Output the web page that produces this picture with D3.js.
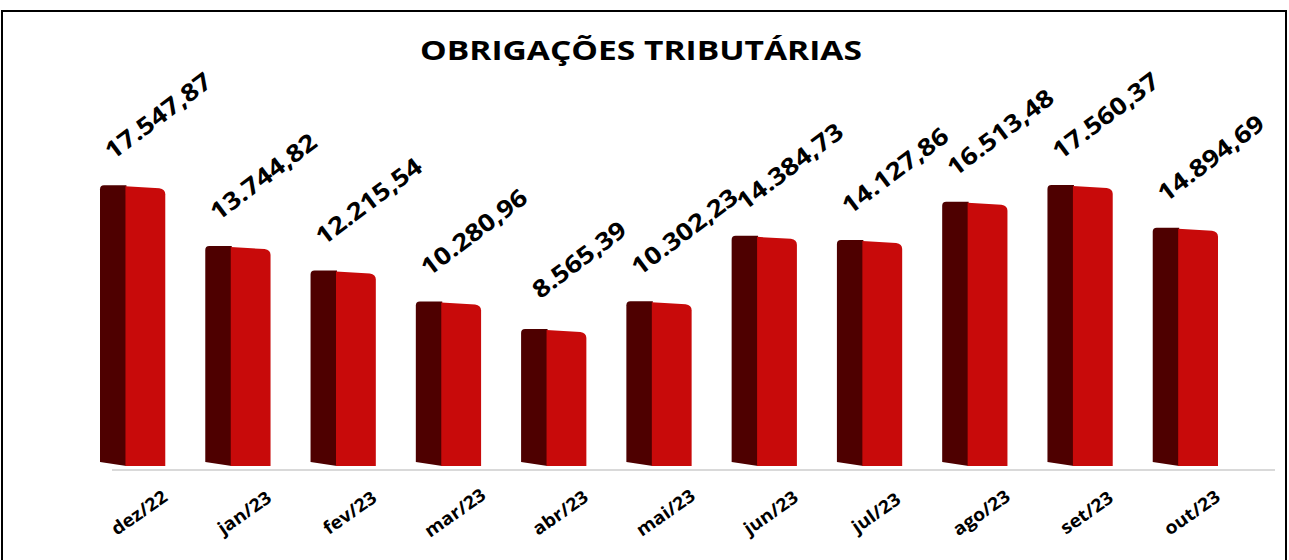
<!DOCTYPE html>
<html>
<head>
<meta charset="utf-8">
<script src="https://cdn.jsdelivr.net/npm/d3@7"></script>
<style>
  body { margin: 0; background: #fff; }
  text { font-family: "Open Sans", "DejaVu Sans", sans-serif; font-weight: bold; fill: #000; }
</style>
</head>
<body>
<div id="vis"></div>
<script>
// chart data
var title = "OBRIGAÇÕES TRIBUTÁRIAS";
var months = ["dez/22", "jan/23", "fev/23", "mar/23", "abr/23", "mai/23", "jun/23", "jul/23", "ago/23", "set/23", "out/23"];
var values = [17547.87, 13744.82, 12215.54, 10280.96, 8565.39, 10302.23, 14384.73, 14127.86, 16513.48, 17560.37, 14894.69];

var width = 1289, height = 560;

var svg = d3.select("#vis").append("svg")
	.attr("width", width)
	.attr("height", height);

// outer frame
svg.append("rect")
	.attr("x", 2).attr("y", 11)
	.attr("width", 1284).attr("height", 580)
	.attr("fill", "none")
	.attr("stroke", "#000")
	.attr("stroke-width", 2);

var x = d3.scaleBand()
	.domain(months)
	.range([60, 1258])
	.padding(0.38);

var y = d3.scaleLinear()
	.domain([0, 20000])
	.range([466, 146]);

var fmt = d3.formatLocale({decimal: ",", thousands: ".", grouping: [3], currency: ["", ""]}).format(",.2f");

// title
svg.append("text")
	.attr("x", 641).attr("y", 60)
	.attr("text-anchor", "middle")
	.attr("font-size", 27)
	.attr("textLength", 442)
	.attr("lengthAdjust", "spacingAndGlyphs")
	.text(title);

// base line
svg.append("line")
	.attr("x1", 112).attr("x2", 1275)
	.attr("y1", 470).attr("y2", 470)
	.attr("stroke", "#d9d9d9")
	.attr("stroke-width", 2);

var data = months.map(function (m, i) { return {month: m, value: values[i]}; });

var bw = x.bandwidth();
var side = bw * 0.39;
var base = y(0);

var bars = svg.selectAll(".bar")
	.data(data)
	.enter().append("g")
	.attr("class", "bar");

// dark side face
bars.append("path")
	.attr("fill", "#4e0000")
	.attr("d", function (d) {
		var x0 = x(d.month), t = y(d.value);
		return "M" + x0 + "," + (base - 4) +
			"L" + x0 + "," + (t + 4) +
			"Q" + x0 + "," + t + " " + (x0 + 4) + "," + t +
			"L" + (x0 + side + 1) + "," + t +
			"L" + (x0 + side + 1) + "," + base + "Z";
	});

// red front face
bars.append("path")
	.attr("fill", "#c80a0a")
	.attr("d", function (d) {
		var x0 = x(d.month), t = y(d.value);
		return "M" + (x0 + side) + "," + (t + 1) +
			"L" + (x0 + bw - 6) + "," + (t + 3) +
			"Q" + (x0 + bw) + "," + (t + 4) + " " + (x0 + bw) + "," + (t + 9) +
			"L" + (x0 + bw) + "," + base +
			"L" + (x0 + side) + "," + base + "Z";
	});

// value labels
bars.append("text")
	.attr("text-anchor", "middle")
	.attr("dominant-baseline", "central")
	.attr("font-size", 24)
	.attr("transform", function (d) {
		var cx = x(d.month) + bw / 2 + 25, cy = y(d.value) - 70;
		return "translate(" + cx + "," + cy + ") rotate(-37) scale(1.15,1)";
	})
	.text(function (d) { return fmt(d.value); });

// month labels
svg.selectAll(".month")
	.data(months)
	.enter().append("text")
	.attr("class", "month")
	.attr("text-anchor", "middle")
	.attr("dominant-baseline", "central")
	.attr("font-size", 18)
	.attr("transform", function (m) {
		return "translate(" + (x(m) + bw / 2 + 6) + ",512) rotate(-35) scale(1.08,1)";
	})
	.text(function (m) { return m; });
</script>
</body>
</html>
